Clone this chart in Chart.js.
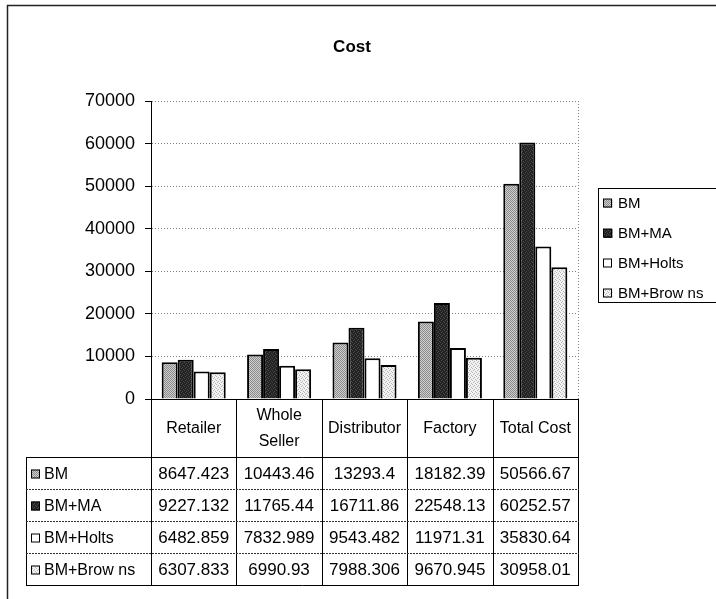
<!DOCTYPE html>
<html>
<head>
<meta charset="utf-8">
<script src="https://cdn.jsdelivr.net/npm/chart.js@4/dist/chart.umd.min.js"></script>
<style>
  html, body { margin: 0; padding: 0; background: #fff; }
  #wrap { position: relative; width: 716px; height: 599px; }
</style>
</head>
<body>
<div id="wrap"><canvas id="c"></canvas></div>
<script>
// ---- data ----
const chartTitle = 'Cost';
const categories = ['Retailer', ['Whole', 'Seller'], 'Distributor', 'Factory', 'Total Cost'];
const seriesNames = ['BM', 'BM+MA', 'BM+Holts', 'BM+Brow ns'];
const bm       = [8647.423, 10443.46, 13293.4, 18182.39, 50566.67];
const bmMA     = [9227.132, 11765.44, 16711.86, 22548.13, 60252.57];
const bmHolts  = [6482.859, 7832.989, 9543.482, 11971.31, 35830.64];
const bmBrowns = [6307.833, 6990.93, 7988.306, 9670.945, 30958.01];
const yMin = 0, yMax = 70000, yStep = 10000;

// ---- patterns ----
function makePattern(tile) {
  const size = tile.length;
  const c = document.createElement('canvas');
  c.width = size; c.height = size;
  const g = c.getContext('2d');
  for (let y = 0; y < size; y++) for (let x = 0; x < size; x++) {
    g.fillStyle = tile[y][x];
    g.fillRect(x, y, 1, 1);
  }
  return g.createPattern(c, 'repeat');
}
const A = '#8a8a8a', B = '#cfcfcf';
const patBM = makePattern([[A,B,A,B],[B,A,B,A],[A,B,A,B],[B,A,B,A]]);
const D = '#222222', E = '#4a4a4a';
const patMA = makePattern([[D,E,D,D],[D,D,D,E],[E,D,D,D],[D,D,E,D]]);
const patHolts = '#ffffff';
const L = '#f2f2f2', G = '#b5b5b5';
const patBrowns = makePattern([[G,L,L,L],[L,L,G,L],[L,G,L,L],[L,L,L,G]]);
const fills = [patBM, patMA, patHolts, patBrowns];
const seriesData = [bm, bmMA, bmHolts, bmBrowns];

const FONT = 'Liberation Sans';
Chart.defaults.font.family = FONT;
Chart.defaults.color = '#000';

function fmt(v) { return String(parseFloat(v.toPrecision(7))); }

const HEADER_H = 58;     // x label row height
const ROW_H = 32;        // data table row height
const ROWHEAD_LEFT = 26; // left edge of row header column

const decorPlugin = {
  id: 'decor',
  beforeDraw(chart) {
    const ctx = chart.ctx;
    ctx.save();
    ctx.fillStyle = '#fff';
    ctx.fillRect(0, 0, chart.width, chart.height);
    ctx.strokeStyle = '#222';
    ctx.lineWidth = 1.5;
    ctx.strokeRect(7.5, 5.5, chart.width + 20, chart.height + 20);
    ctx.fillStyle = '#000';
    ctx.font = 'bold 17px "' + FONT + '"';
    ctx.textAlign = 'center';
    ctx.textBaseline = 'middle';
    ctx.fillText(chartTitle, 352, 47);
    ctx.restore();
  },
  beforeDatasetsDraw(chart) {
    const ctx = chart.ctx, a = chart.chartArea;
    ctx.save();
    ctx.strokeStyle = '#808080';
    ctx.lineWidth = 1;
    ctx.setLineDash([1, 2]);
    ctx.beginPath();
    ctx.moveTo(Math.round(a.right) + 0.5, a.top);
    ctx.lineTo(Math.round(a.right) + 0.5, a.bottom);
    ctx.stroke();
    ctx.restore();
  },
  afterDraw(chart) {
    const ctx = chart.ctx, a = chart.chartArea, xs = chart.scales.x;
    const n = categories.length;
    const cw = (a.right - a.left) / n;
    const headBottom = Math.round(a.bottom + HEADER_H) + 0.5;
    const tableBottom = headBottom + ROW_H * seriesData.length;
    ctx.save();
    ctx.strokeStyle = '#000';
    ctx.lineWidth = 1;
    ctx.beginPath();
    for (let i = 0; i <= n; i++) {
      const bx = Math.round(xs.getPixelForValue(0) - cw / 2 + i * cw) + 0.5;
      ctx.moveTo(bx, a.bottom);
      ctx.lineTo(bx, tableBottom);
    }
    ctx.moveTo(ROWHEAD_LEFT + 0.5, headBottom);
    ctx.lineTo(ROWHEAD_LEFT + 0.5, tableBottom);
    ctx.moveTo(ROWHEAD_LEFT, headBottom);
    ctx.lineTo(a.right + 1, headBottom);
    ctx.moveTo(ROWHEAD_LEFT, tableBottom);
    ctx.lineTo(a.right + 1, tableBottom);
    ctx.stroke();
    ctx.strokeStyle = '#333';
    ctx.setLineDash([2, 1]);
    ctx.beginPath();
    for (let r = 1; r < seriesData.length; r++) {
      const y = headBottom + r * ROW_H;
      ctx.moveTo(ROWHEAD_LEFT, y);
      ctx.lineTo(a.right + 1, y);
    }
    ctx.stroke();
    ctx.setLineDash([]);
    ctx.textBaseline = 'middle';
    for (let r = 0; r < seriesData.length; r++) {
      const cy = headBottom + r * ROW_H + ROW_H / 2;
      ctx.fillStyle = fills[r];
      ctx.fillRect(ROWHEAD_LEFT + 5, cy - 4, 9, 9);
      ctx.strokeStyle = '#000';
      ctx.strokeRect(ROWHEAD_LEFT + 5.5, cy - 3.5, 8, 8);
      ctx.fillStyle = '#000';
      ctx.font = '16px "' + FONT + '"';
      ctx.textAlign = 'left';
      ctx.fillText(seriesNames[r], ROWHEAD_LEFT + 18, cy + 1);
      ctx.font = '17px "' + FONT + '"';
      ctx.textAlign = 'center';
      for (let i = 0; i < n; i++) {
        ctx.fillText(fmt(seriesData[r][i]), xs.getPixelForValue(i), cy + 1);
      }
    }
    // legend
    const lx = 598.5, ly = 188.5;
    ctx.strokeStyle = '#000';
    ctx.strokeRect(lx, ly, 200, 114);
    ctx.font = '15px "' + FONT + '"';
    ctx.textAlign = 'left';
    for (let r = 0; r < seriesNames.length; r++) {
      const cy = 203 + r * 30;
      ctx.fillStyle = fills[r];
      ctx.fillRect(lx + 5, cy - 4, 9, 9);
      ctx.strokeRect(lx + 5, cy - 4, 8, 8);
      ctx.fillStyle = '#000';
      ctx.fillText(seriesNames[r], 618, cy + 1);
    }
    ctx.restore();
  }
};

new Chart(document.getElementById('c'), {
  type: 'bar',
  data: {
    labels: categories,
    datasets: seriesNames.map((name, i) => ({
      label: name,
      data: seriesData[i],
      backgroundColor: fills[i],
      borderColor: '#000',
      borderWidth: 2,
      borderSkipped: 'start',
      categoryPercentage: 0.75,
      barPercentage: 1.0
    }))
  },
  options: {
    responsive: true,
    maintainAspectRatio: false,
    animation: false,
    layout: { padding: { left: 0, right: 138, top: 101, bottom: 142 } },
    plugins: {
      legend: { display: false },
      tooltip: { enabled: false },
      title: { display: false }
    },
    scales: {
      x: {
        grid: { display: false, drawTicks: false },
        border: { display: true, color: '#000', width: 1 },
        ticks: {
          font: { size: 16, lineHeight: 1.6, family: FONT },
          color: '#000',
          maxRotation: 0,
          autoSkip: false,
          crossAlign: 'center',
          padding: 17
        },
        afterFit(s) { s.height = HEADER_H; }
      },
      y: {
        min: yMin, max: yMax,
        ticks: {
          stepSize: yStep,
          font: { size: 18, family: FONT },
          color: '#000',
          padding: 10,
          callback: (v) => String(v)
        },
        grid: {
          color: (c) => (c.tick && c.tick.value === 0) ? 'rgba(0,0,0,0)' : '#808080',
          lineWidth: 1,
          drawTicks: true,
          tickLength: 6,
          tickColor: '#000',
          tickWidth: 1
        },
        border: { display: true, color: '#000', width: 1, dash: [1, 2] },
        afterFit(s) { s.width = 151; }
      }
    }
  },
  plugins: [decorPlugin]
});
</script>
</body>
</html>
